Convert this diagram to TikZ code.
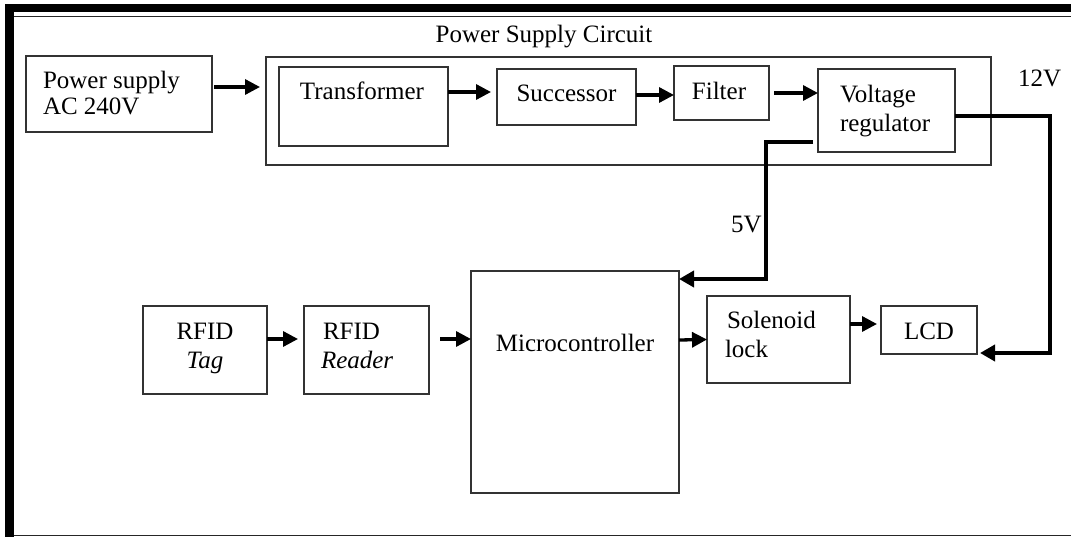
\documentclass[tikz,border=0pt]{standalone}
\usepackage{fontspec}
\setmainfont{Liberation Serif}
\usetikzlibrary{arrows.meta}
\newcommand{\dfont}{\fontsize{25}{28}\selectfont}
\begin{document}
\begin{tikzpicture}[x=1pt,y=-1pt,
  box/.style={draw=black!80, line width=1.1pt, inner sep=0pt, outer sep=0pt},
  txt/.style={inner sep=0pt, outer sep=0pt, font=\dfont},
  arr/.style={line width=3.3pt, -{Triangle[length=15pt,width=15pt]}},
  wire/.style={line width=3.8pt, -{Triangle[length=15pt,width=16pt]}}]
\useasboundingbox (0,0) rectangle (1071,537);
% outer frame
\fill (5,4) rectangle (1071,12);
\fill (5,4) rectangle (14,537);
\draw[line width=1.2pt, black!85] (14,16.5) -- (1071,16.5);
\draw[line width=1.5pt, black!85] (14,535.5) -- (1071,535.5);

% boxes
\node[box, minimum width=186pt, minimum height=76pt] (psu) at (119,94) {};
\node[box, minimum width=725pt, minimum height=108pt] (psc) at (628.5,111) {};
\node[box, minimum width=169pt, minimum height=79pt] (trans) at (363.5,106.5) {};
\node[box, minimum width=139pt, minimum height=56pt] (succ) at (566.5,97) {};
\node[box, minimum width=95pt, minimum height=54pt] (filt) at (721.5,93) {};
\node[box, minimum width=137pt, minimum height=83pt] (vr) at (886.5,110.5) {};
\node[box, minimum width=208pt, minimum height=222pt] (micro) at (575,382) {};
\node[box, minimum width=124pt, minimum height=88pt] (tag) at (205,350) {};
\node[box, minimum width=125pt, minimum height=88pt] (reader) at (366.5,350) {};
\node[box, minimum width=143pt, minimum height=87pt] (sol) at (778.5,339.5) {};
\node[box, minimum width=96pt, minimum height=48pt] (lcd) at (929,330) {};

% texts
\node[txt, anchor=base west] (psuA) at (43,89) {Power supply};
\node[txt, anchor=base west] (psuB) at (43,115) {AC 240V};
\node[txt, anchor=base] (title) at (544,43) {Power Supply Circuit};
\node[txt, anchor=base] (transT) at (362,100) {Transformer};
\node[txt, anchor=base] (succT) at (566.5,102) {Successor};
\node[txt, anchor=base] (filtT) at (719,100) {Filter};
\node[txt, anchor=base west] (vrA) at (840,103) {Voltage};
\node[txt, anchor=base west] (vrB) at (840,132) {regulator};
\node[txt, anchor=base west] (v12) at (1018,87) {12V};
\node[txt, anchor=base west] (v5) at (731,233) {5V};
\node[txt, anchor=base] (microT) at (575,352) {Microcontroller};
\node[txt, anchor=base] (tagA) at (205,340) {RFID};
\node[txt, anchor=base] (tagB) at (205,368) {\itshape Tag};
\node[txt, anchor=base west] (readerA) at (323,340) {RFID};
\node[txt, anchor=base west] (readerB) at (321,368) {\itshape Reader};
\node[txt, anchor=base west] (solA) at (727,328) {Solenoid};
\node[txt, anchor=base west] (solB) at (725,357) {lock};
\node[txt, anchor=base] (lcdT) at (929,340) {LCD};

% arrows
\draw[arr] ([xshift=2pt,yshift=7pt]psu.east) -- ([xshift=-6pt,yshift=24pt]psc.west);
\draw[arr] ([yshift=14.5pt]trans.east) -- ([xshift=-6pt,yshift=5pt]succ.west);
\draw[arr] ([yshift=2pt]succ.east) -- ([yshift=-2pt]filt.west);
\draw[arr] ([xshift=5pt]filt.east) -- ([yshift=17.5pt]vr.west);
\draw[arr] ([yshift=11pt]tag.east) -- ([xshift=-6pt,yshift=11pt]reader.west);
\draw[arr] ([xshift=11pt,yshift=11pt]reader.east) -- ([yshift=43pt]micro.west);
\draw[arr] ([yshift=42pt]micro.east) -- (sol.west);
\draw[arr] ([yshift=15.5pt]sol.east) -- ([xshift=-4pt,yshift=6pt]lcd.west);

% supply wires
\coordinate (c12) at (1050,353);
\coordinate (c5) at (766,279);
\draw[wire] ([yshift=-5.5pt]vr.east) -| (c12) -- ([xshift=3pt,yshift=-23pt]lcd.east);
\draw[wire] ([xshift=-5pt,yshift=-31.5pt]vr.west) -| (c5) -- ([yshift=103pt]micro.east);
\end{tikzpicture}
\end{document}
